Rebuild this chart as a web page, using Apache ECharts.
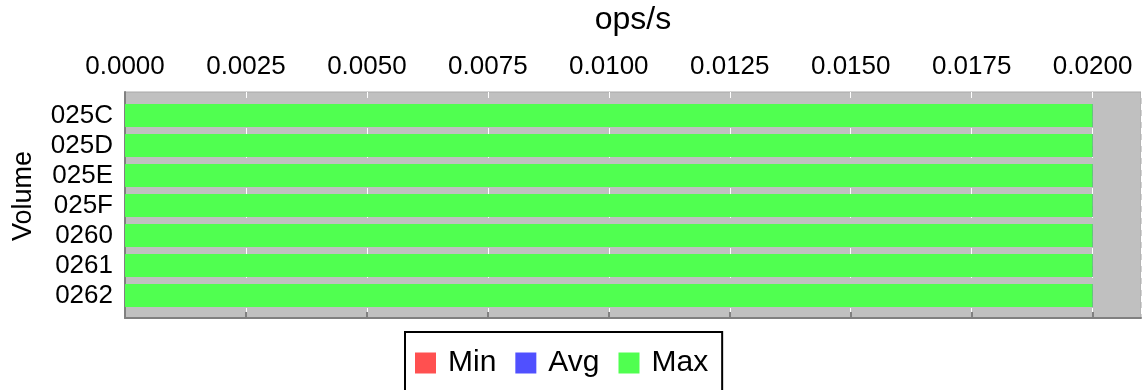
<!DOCTYPE html>
<html>
<head>
<meta charset="utf-8">
<script src="https://cdn.jsdelivr.net/npm/echarts@6/dist/echarts.min.js"></script>
<style>html,body{margin:0;padding:0;background:#fff}#c{width:1142px;height:390px}</style>
</head>
<body>
<div id="c"></div>
<script>
var categories = ['025C', '025D', '025E', '025F', '0260', '0261', '0262'];
var minValues = [0.02, 0.02, 0.02, 0.02, 0.02, 0.02, 0.02];
var avgValues = [0.02, 0.02, 0.02, 0.02, 0.02, 0.02, 0.02];
var maxValues = [0.02, 0.02, 0.02, 0.02, 0.02, 0.02, 0.02];
var seriesNames = ['Min', 'Avg', 'Max'];
var seriesColors = ['#ff5050', '#5050ff', '#50ff50'];

var FONT = '"Liberation Sans", Arial, sans-serif';
var chart = echarts.init(document.getElementById('c'));
var dataSets = [minValues, avgValues, maxValues];
var series = dataSets.map(function (d, i) {
  return {
    name: seriesNames[i], type: 'bar', xAxisIndex: 1, yAxisIndex: 1,
    data: d, barWidth: 23, barGap: '-100%',
    itemStyle: { color: seriesColors[i] }, silent: true
  };
});
chart.setOption({
  animation: false,
  textStyle: { fontFamily: FONT },
  grid: [
    { left: 125, top: 92, width: 1016, height: 226, show: true, backgroundColor: '#c0c0c0', borderColor: '#a8a8a8', borderWidth: 1, containLabel: false, outerBoundsMode: 'none' },
    { left: 125, top: 100.5, width: 1016, height: 210, containLabel: false, outerBoundsMode: 'none' }
  ],
  xAxis: [
    { gridIndex: 0, type: 'value', position: 'top', min: 0, max: 0.021, interval: 0.0025,
      name: 'ops/s', nameLocation: 'middle', nameGap: 56,
      nameTextStyle: { fontSize: 32, color: '#000', fontFamily: FONT },
      axisLine: { show: true, lineStyle: { color: '#808080', width: 2 } },
      axisTick: { show: true, length: 6, lineStyle: { color: '#808080', width: 2 } },
      axisLabel: { showMaxLabel: false, fontSize: 26, color: '#000', margin: 12, fontFamily: FONT,
        formatter: function (v) { return v > 0.02000001 ? '' : v.toFixed(4); } },
      splitLine: { show: true, lineStyle: { color: '#ffffff', type: [6, 6], width: 1 } }
    },
    { gridIndex: 1, type: 'value', min: 0, max: 0.021, show: false }
  ],
  yAxis: [
    { gridIndex: 0, type: 'value', min: 0, max: 1, name: 'Volume', nameLocation: 'middle', nameGap: 88,
      nameTextStyle: { fontSize: 27, color: '#000', fontFamily: FONT, padding: [0, 0, 0, 18] },
      axisLine: { show: true, lineStyle: { color: '#808080', width: 2 } },
      axisTick: { show: false }, axisLabel: { show: false }, splitLine: { show: false } },
    { gridIndex: 1, type: 'category', data: categories, inverse: true,
      axisLine: { show: false }, axisTick: { show: false },
      axisLabel: { interval: 0, fontSize: 26, color: '#000', margin: 12, fontFamily: FONT } }
  ],
  legend: {
    data: seriesNames, left: 405, top: 332, orient: 'horizontal',
    icon: 'rect', itemWidth: 21, itemHeight: 21, itemGap: 19,
    padding: [16, 14, 24, 10], borderColor: '#000', borderWidth: 2,
    textStyle: { fontSize: 30, color: '#000', fontFamily: FONT, padding: [0, 0, 0, 7] }
  },
  series: series
});
</script>
</body>
</html>
